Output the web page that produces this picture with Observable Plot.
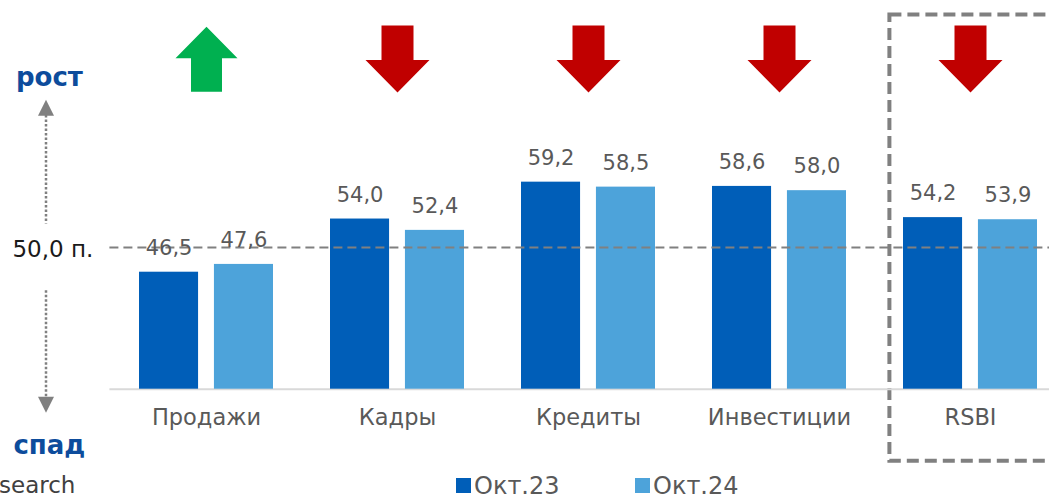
<!DOCTYPE html>
<html>
<head>
<meta charset="utf-8">
<script src="https://cdn.jsdelivr.net/npm/d3@7"></script>
<script src="https://cdn.jsdelivr.net/npm/@observablehq/plot@0.6"></script>
<style>
  html, body { margin: 0; padding: 0; background: #fff; overflow: hidden; }
  #chart { width: 1049px; }
  #bottom { position: relative; width: 1049px; height: 25px; font-family: "DejaVu Sans", sans-serif; }
  #bottom span { position: absolute; white-space: nowrap; }
  .sw { display: inline-block; width: 15px; height: 15px; }
</style>
</head>
<body>
<div id="chart"></div>
<div id="bottom"></div>
<script>
// ---- data ----
const categories = ["Продажи", "Кадры", "Кредиты", "Инвестиции", "RSBI"];
const seriesNames = ["Окт.23", "Окт.24"];
const oct23 = [46.5, 54.0, 59.2, 58.6, 54.2];
const oct24 = [47.6, 52.4, 58.5, 58.0, 53.9];
const threshold = 50;
const thresholdLabel = "50,0 п.";
const upLabel = "рост";
const downLabel = "спад";
const highlighted = "RSBI";
const captionText = "search";
const yMin = 30, yMax = 82;

// ---- styling / layout ----
const colors = ["#005EB8", "#4DA3DA"];
const W = 1049, H = 474;
const mL = 109.4, mR = -16.6, mT = 20, mB = H - 388.7;
const padInner = 0.3, padOuter = 0.15, pairGap = 16;
const step = (W - mL - mR) / (categories.length - padInner + 2 * padOuter);
const bw = step * (1 - padInner);
const inset = (bw + pairGap) / 2;
const barW = bw - inset;
const shift = bw / 2 - barW / 2;

const rows = categories.map((c, i) => ({category: c, a: oct23[i], b: oct24[i], dir: Math.sign(oct24[i] - oct23[i])}));
const fmt = v => d3.format(".1f")(v).replace(".", ",");

function arrowSymbol(up) {
  return {
    draw(ctx, size) {
      const r = Math.sqrt(size / Math.PI), s = up ? -1 : 1;
      ctx.moveTo(-0.5 * r, -1.05 * r * s);
      ctx.lineTo(0.5 * r, -1.05 * r * s);
      ctx.lineTo(0.5 * r, 0.03 * r * s);
      ctx.lineTo(r, 0.03 * r * s);
      ctx.lineTo(0, 1.05 * r * s);
      ctx.lineTo(-r, 0.03 * r * s);
      ctx.lineTo(-0.5 * r, 0.03 * r * s);
      ctx.closePath();
    }
  };
}
function triSymbol(up) {
  return {
    draw(ctx, size) {
      const r = Math.sqrt(size / Math.PI), s = up ? 1 : -1;
      ctx.moveTo(0, -r * s);
      ctx.lineTo(r, r * s);
      ctx.lineTo(-r, r * s);
      ctx.closePath();
    }
  };
}

const gray = "#595959", dashGray = "#808080", blueTxt = "#0d4c9c";

const plot = Plot.plot({
  width: W, height: H,
  marginLeft: mL, marginRight: mR, marginTop: mT, marginBottom: mB,
  style: {fontFamily: "DejaVu Sans", background: "white"},
  x: {domain: categories, paddingInner: padInner, paddingOuter: padOuter, axis: null},
  y: {domain: [yMin, yMax], axis: null},
  marks: [
    // highlight box
    Plot.cell([highlighted], {x: d => d, fill: "none", stroke: dashGray, strokeWidth: 4, strokeDasharray: "12,6",
      insetLeft: -13.6, insetRight: -40, insetTop: -5.5, insetBottom: -72}),
    // baseline
    Plot.ruleY([yMin], {stroke: "#d9d9d9", strokeWidth: 2}),
    // bars
    Plot.barY(rows, {x: "category", y1: yMin, y2: "a", fill: colors[0], insetRight: inset, insetLeft: 0}),
    Plot.barY(rows, {x: "category", y1: yMin, y2: "b", fill: colors[1], insetLeft: inset, insetRight: 0}),
    // threshold line
    Plot.ruleY([threshold], {stroke: dashGray, strokeWidth: 2, strokeDasharray: "9,5"}),
    // value labels
    Plot.text(rows, {x: "category", y: "a", text: d => fmt(d.a), dx: -shift, dy: -24, fontSize: 21, fill: gray}),
    Plot.text(rows, {x: "category", y: "b", text: d => fmt(d.b), dx: shift, dy: -24, fontSize: 21, fill: gray}),
    // direction arrows
    Plot.dot(rows.filter(d => d.dir > 0), {x: "category", frameAnchor: "top", dy: 38.7, r: 31, symbol: arrowSymbol(true), fill: "#00B050", stroke: "none"}),
    Plot.dot(rows.filter(d => d.dir < 0), {x: "category", frameAnchor: "top", dy: 38.5, r: 32, symbol: arrowSymbol(false), fill: "#C00000", stroke: "none"}),
    // category axis
    Plot.axisX({anchor: "bottom", tickSize: 0, tickPadding: 20, fontSize: 22.5, fill: gray, label: null}),
    // left annotations
    Plot.text([upLabel], {frameAnchor: "left", y: 74, dx: -60.5, text: d => d, fontSize: 26, fontWeight: "bold", fill: blueTxt, textAnchor: "middle"}),
    Plot.text([downLabel], {frameAnchor: "left", y: 22.1, dx: -60.5, text: d => d, fontSize: 26, fontWeight: "bold", fill: blueTxt, textAnchor: "middle"}),
    Plot.text([thresholdLabel], {frameAnchor: "left", y: threshold, dy: 2, dx: -57, text: d => d, fontSize: 23, fill: "#1a1a1a", textAnchor: "middle"}),
    Plot.ruleX([categories[0]], {x: d => d, y1: 68.6, y2: 53.3, dx: -160.5, stroke: dashGray, strokeWidth: 2.5, strokeDasharray: "2.5,2"}),
    Plot.ruleX([categories[0]], {x: d => d, y1: 43.9, y2: 28.8, dx: -160.5, stroke: dashGray, strokeWidth: 2.5, strokeDasharray: "2.5,2"}),
    Plot.dot([categories[0]], {x: d => d, y: 69.7, dx: -160.5, r: 8, symbol: triSymbol(true), fill: dashGray, stroke: "none"}),
    Plot.dot([categories[0]], {x: d => d, y: 27.8, dx: -160.5, r: 8, symbol: triSymbol(false), fill: dashGray, stroke: "none"})
  ]
});
document.getElementById("chart").appendChild(plot);

// ---- bottom row: caption + legend ----
const bottom = document.getElementById("bottom");
const cap = document.createElement("span");
cap.textContent = captionText;
cap.style.cssText = "left:-1px;top:0px;font-size:23px;line-height:23px;color:#404040;";
bottom.appendChild(cap);
const legendLeft = [456, 635];
seriesNames.forEach((name, i) => {
  const sw = document.createElement("span");
  sw.className = "sw";
  sw.style.cssText = `left:${legendLeft[i]}px;top:4px;width:15px;height:15px;background:${colors[i]};`;
  bottom.appendChild(sw);
  const t = document.createElement("span");
  t.textContent = name;
  t.style.cssText = `left:${legendLeft[i] + 18}px;top:0px;font-size:24px;line-height:24px;color:${gray};`;
  bottom.appendChild(t);
});
</script>
</body>
</html>
